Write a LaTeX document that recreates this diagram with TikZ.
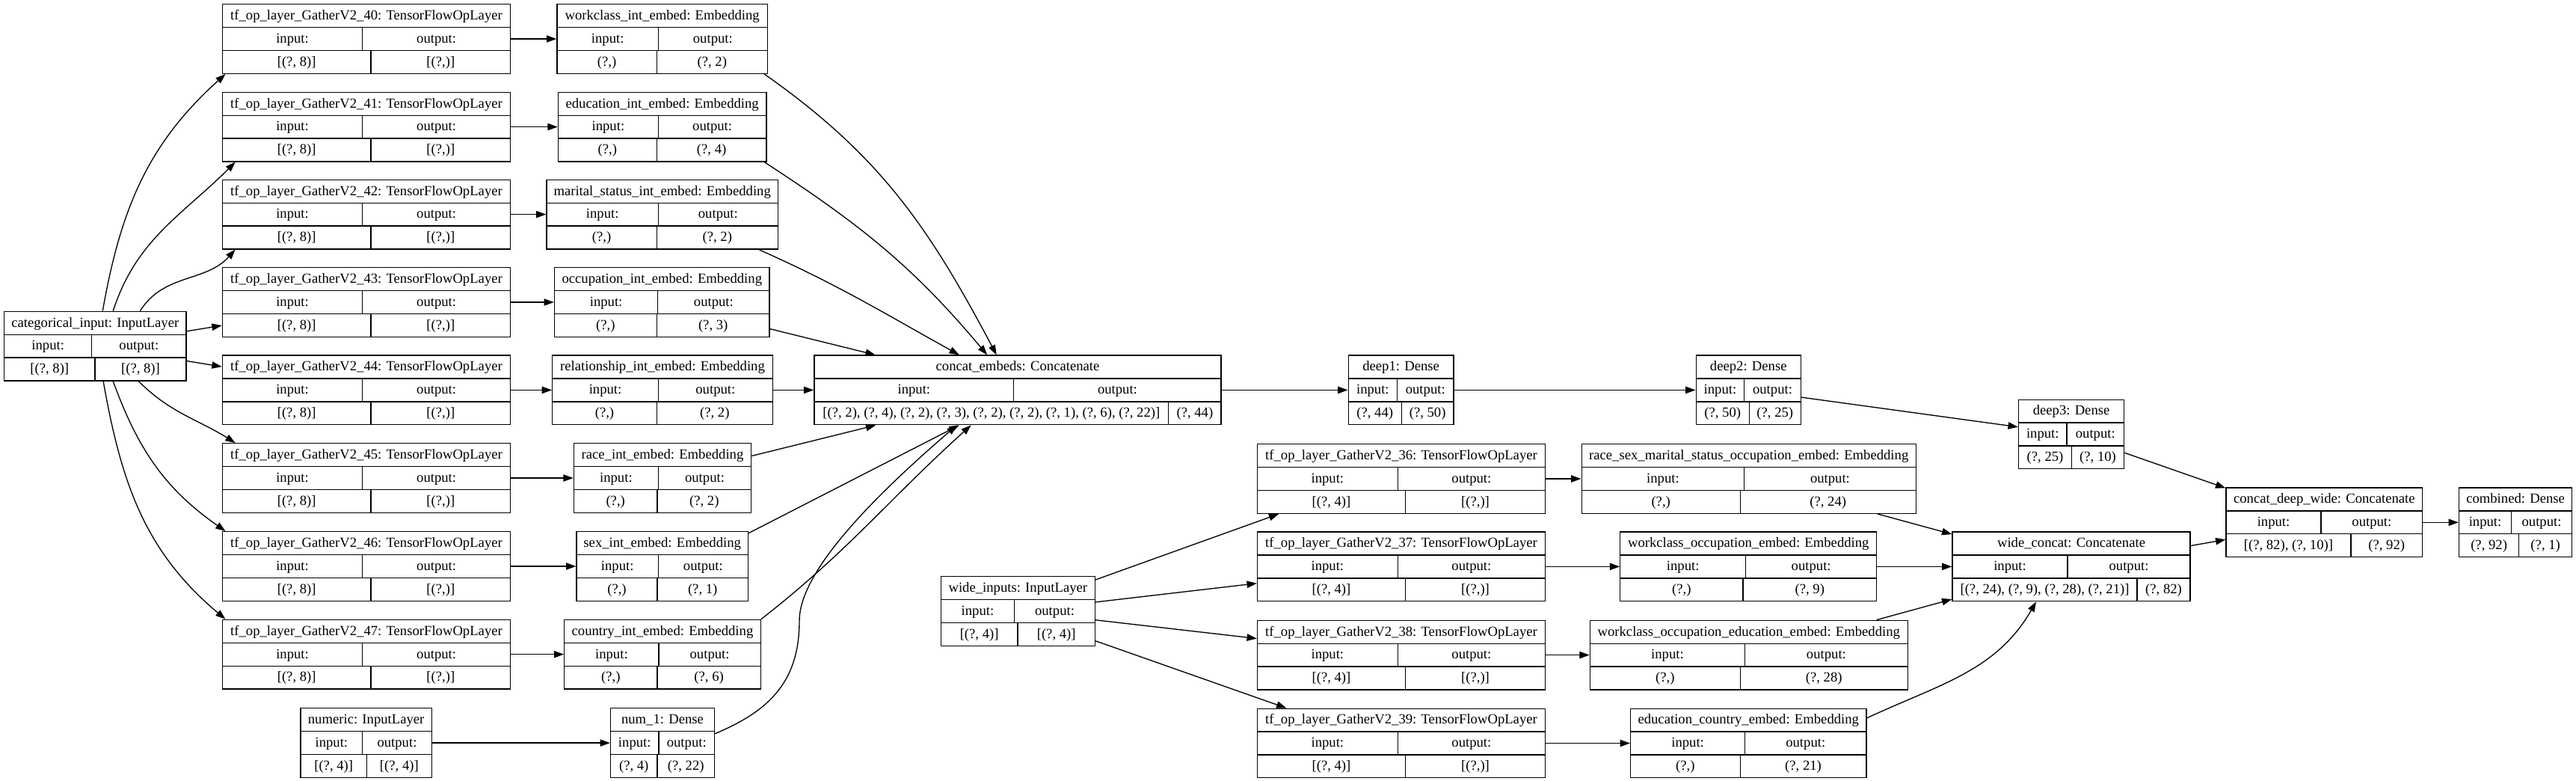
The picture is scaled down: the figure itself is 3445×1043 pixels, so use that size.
\documentclass[tikz,border=0pt]{standalone}
\usepackage{fontspec}
\setmainfont{Liberation Serif}
\usetikzlibrary{fit,arrows.meta}

% record box: name, left, top, right, divider row 2, divider row 3, title, input shape, output shape
\newcommand\klayer[9]{%
  \node[layer, fit={(#2,#3) (#4,#3+92.6)}] (#1) {};
  \draw (#2,#3+30.9) -- (#4,#3+30.9) (#2,#3+61.8) -- (#4,#3+61.8)
        (#5,#3+30.9) -- (#5,#3+61.8) (#6,#3+61.8) -- (#6,#3+92.6);
  \node[cell] (#1-t) at ({(#2+#4)/2},#3+15.45) {#7};
  \node[cell] (#1-i) at ({(#2+#5)/2},#3+46.35) {input:};
  \node[cell] (#1-o) at ({(#5+#4)/2},#3+46.35) {output:};
  \node[cell] (#1-a) at ({(#2+#6)/2},#3+77.25) {#8};
  \node[cell] (#1-b) at ({(#6+#4)/2},#3+77.25) {#9};
}

\begin{document}
\begin{tikzpicture}[x=0.75pt, y=-0.75pt, line width=1pt,
  layer/.style = {draw, rectangle, inner sep=0pt},
  cell/.style = {inner sep=0pt, text height=11pt, text depth=3pt,
    font=\fontsize{14pt}{16pt}\selectfont},
  link/.style = {-{Triangle[length=10pt,width=7pt]}}]
  \useasboundingbox (0,0) rectangle (3445,1043);

  \klayer{cat}{5.6}{416.3}{249}{122.8}{127}{categorical\_input: InputLayer}{[(?, 8)]}{[(?, 8)]}
  \klayer{g40}{297.4}{5.7}{682.6}{484.7}{496}{tf\_op\_layer\_GatherV2\_40: TensorFlowOpLayer}{[(?, 8)]}{[(?,)]}
  \klayer{g41}{297.4}{123.3}{682.6}{484.7}{496}{tf\_op\_layer\_GatherV2\_41: TensorFlowOpLayer}{[(?, 8)]}{[(?,)]}
  \klayer{g42}{297.4}{240.3}{682.6}{484.7}{496}{tf\_op\_layer\_GatherV2\_42: TensorFlowOpLayer}{[(?, 8)]}{[(?,)]}
  \klayer{g43}{297.4}{357.7}{682.6}{484.7}{496}{tf\_op\_layer\_GatherV2\_43: TensorFlowOpLayer}{[(?, 8)]}{[(?,)]}
  \klayer{g44}{297.4}{475.1}{682.6}{484.7}{496}{tf\_op\_layer\_GatherV2\_44: TensorFlowOpLayer}{[(?, 8)]}{[(?,)]}
  \klayer{g45}{297.4}{592.7}{682.6}{484.7}{496}{tf\_op\_layer\_GatherV2\_45: TensorFlowOpLayer}{[(?, 8)]}{[(?,)]}
  \klayer{g46}{297.4}{710.7}{682.6}{484.7}{496}{tf\_op\_layer\_GatherV2\_46: TensorFlowOpLayer}{[(?, 8)]}{[(?,)]}
  \klayer{g47}{297.4}{828.4}{682.6}{484.7}{496}{tf\_op\_layer\_GatherV2\_47: TensorFlowOpLayer}{[(?, 8)]}{[(?,)]}

  \klayer{wce}{745}{5.7}{1026.3}{880.4}{878.3}{workclass\_int\_embed: Embedding}{(?,)}{(?, 2)}
  \klayer{edu}{746.4}{123.3}{1024.9}{880.4}{878.3}{education\_int\_embed: Embedding}{(?,)}{(?, 4)}
  \klayer{mar}{731}{240.3}{1040.3}{880.4}{878.3}{marital\_status\_int\_embed: Embedding}{(?,)}{(?, 2)}
  \klayer{occ}{741.5}{357.7}{1029.1}{879.7}{878.3}{occupation\_int\_embed: Embedding}{(?,)}{(?, 3)}
  \klayer{rel}{738.7}{475.1}{1033.3}{880.4}{878.3}{relationship\_int\_embed: Embedding}{(?,)}{(?, 2)}
  \klayer{race}{767.4}{592.7}{1004.6}{880.4}{879}{race\_int\_embed: Embedding}{(?,)}{(?, 2)}
  \klayer{sex}{771}{710.7}{1000.4}{880.4}{879}{sex\_int\_embed: Embedding}{(?,)}{(?, 1)}
  \klayer{cty}{754.8}{828.4}{1017.2}{881}{879}{country\_int\_embed: Embedding}{(?,)}{(?, 6)}

  \klayer{numeric}{402}{946.8}{577.3}{484.7}{490.4}{numeric: InputLayer}{[(?, 4)]}{[(?, 4)]}
  \klayer{num1}{816.5}{946.8}{955.5}{881}{879}{num\_1: Dense}{(?, 4)}{(?, 22)}

  \klayer{concat}{1088.9}{475.1}{1633.1}{1355.8}{1562.7}{concat\_embeds: Concatenate}{[(?, 2), (?, 4), (?, 2), (?, 3), (?, 2), (?, 2), (?, 1), (?, 6), (?, 22)]}{(?, 44)}
  \klayer{deep1}{1803.2}{475.1}{1944}{1868.5}{1874.3}{deep1: Dense}{(?, 44)}{(?, 50)}
  \klayer{deep2}{2268.2}{475.1}{2408.3}{2332.7}{2339.2}{deep2: Dense}{(?, 50)}{(?, 25)}
  \klayer{deep3}{2699.5}{534.2}{2840.6}{2764}{2770.5}{deep3: Dense}{(?, 25)}{(?, 10)}

  \klayer{wide}{1258.3}{770.6}{1464.4}{1356.6}{1361}{wide\_inputs: InputLayer}{[(?, 4)]}{[(?, 4)]}
  \klayer{g36}{1681.5}{593.7}{2066.5}{1869.2}{1879.5}{tf\_op\_layer\_GatherV2\_36: TensorFlowOpLayer}{[(?, 4)]}{[(?,)]}
  \klayer{g37}{1681.5}{711.1}{2066.5}{1869.2}{1879.5}{tf\_op\_layer\_GatherV2\_37: TensorFlowOpLayer}{[(?, 4)]}{[(?,)]}
  \klayer{g38}{1681.5}{829.3}{2066.5}{1869.2}{1879.5}{tf\_op\_layer\_GatherV2\_38: TensorFlowOpLayer}{[(?, 4)]}{[(?,)]}
  \klayer{g39}{1681.5}{947.2}{2066.5}{1869.2}{1879.5}{tf\_op\_layer\_GatherV2\_39: TensorFlowOpLayer}{[(?, 4)]}{[(?,)]}
  \klayer{rsmo}{2115.2}{593.7}{2562.2}{2332.7}{2327.2}{race\_sex\_marital\_status\_occupation\_embed: Embedding}{(?,)}{(?, 24)}
  \klayer{wo}{2166.8}{711.1}{2509.7}{2334.6}{2330.9}{workclass\_occupation\_embed: Embedding}{(?,)}{(?, 9)}
  \klayer{woe}{2126.3}{829.3}{2551.2}{2333.6}{2327.2}{workclass\_occupation\_education\_embed: Embedding}{(?,)}{(?, 28)}
  \klayer{ec}{2180.6}{947.2}{2495.9}{2333.6}{2327.2}{education\_country\_embed: Embedding}{(?,)}{(?, 21)}
  \klayer{wc}{2611}{711.1}{2929}{2765}{2858}{wide\_concat: Concatenate}{[(?, 24), (?, 9), (?, 28), (?, 21)]}{(?, 82)}

  \klayer{cdw}{2977}{652}{3239.6}{3104.1}{3143.8}{concat\_deep\_wide: Concatenate}{[(?, 82), (?, 10)]}{(?, 92)}
  \klayer{comb}{3288.5}{652}{3439.6}{3358.5}{3368.7}{combined: Dense}{(?, 92)}{(?, 1)}

  % categorical input fans out
  \draw[link] (cat.78) to[out=80,in=222] (g40.194);
  \draw[link] (cat.63) to[out=72,in=225] (g41.195);
  \draw[link] (cat.38) to[out=58,in=228] (g42.195);
  \draw[link] (cat) -- (g43);
  \draw[link] (cat) -- (g44);
  \draw[link] (cat.321) to[out=-45,in=148] (g45.165);
  \draw[link] (cat.297) to[out=-70,in=145] (g46.166);
  \draw[link] (cat.283) to[out=-80,in=140] (g47.166);

  \foreach \a/\b in {g40/wce, g41/edu, g42/mar, g43/occ, g44/rel, g45/race,
      g46/sex, g47/cty, numeric/num1, occ/concat, rel/concat, race/concat,
      concat/deep1, deep1/deep2, deep2/deep3, deep3/cdw, wc/cdw, cdw/comb,
      wide/g37, wide/g38, g36/rsmo, g37/wo, g38/woe, g39/ec,
      rsmo/wc, wo/wc, woe/wc}
    \draw[link] (\a) -- (\b);

  % embeddings into concat_embeds
  \draw[link] (wce.341) to[out=-35,in=118] (concat.121);
  \draw[link] (edu.341) to[out=-33,in=130] (concat.131);
  \draw[link] (mar.340) to[out=-24,in=151] (concat.149);
  \draw[link] (sex.21) -- (concat.211);
  \draw[link] (cty.north east) to[out=38,in=222] (concat.217);
  \draw[link] (num1.10) .. controls (1030,950) and (1069,910) .. (1069,830)
    .. controls (1069,770) and (1150,680) .. (concat.210);

  % wide part
  \draw[link] (wide.22) -- (g36.196);
  \draw[link] (wide.339) -- (g39.163);
  \draw[link] (ec.12) to[out=25,in=240] (wc.225);
\end{tikzpicture}
\end{document}
